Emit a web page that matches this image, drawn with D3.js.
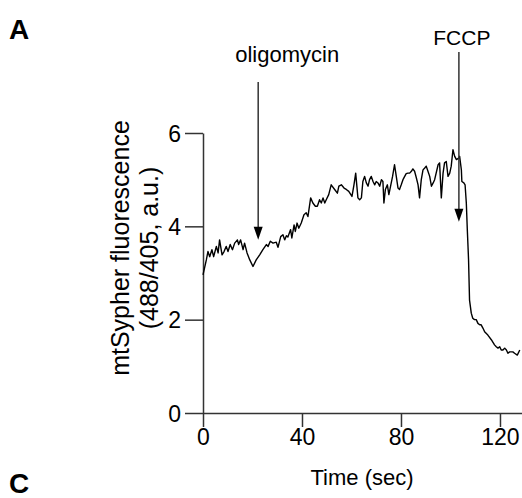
<!DOCTYPE html>
<html>
<head>
<meta charset="utf-8">
<script src="https://cdn.jsdelivr.net/npm/d3@7"></script>
<style>
  body { margin: 0; background: #fff; }
  text { font-family: "Liberation Sans", Arial, sans-serif; fill: #000; }
</style>
</head>
<body>
<div id="chart"></div>
<script>
// trace: time (sec) and ratio (488/405)
const times = [0, 1.35, 2.0, 2.7, 3.6, 4.3, 5.4, 6.1, 6.7, 7.7, 8.5, 9.4, 10.1, 11.0, 11.9, 12.8, 13.9, 14.4, 15.2, 16.2,
  16.8, 17.8, 18.9, 20.2, 21.5, 22.9, 24.2, 25.6, 26.3, 27.2, 28.3, 29.6, 30.3, 31.4, 32.3, 33.0, 33.7, 34.3, 35.4, 35.9,
  36.8, 37.3, 38.0, 38.7, 39.7, 40.8, 41.7, 42.4, 43.5, 44.4, 45.4, 46.2, 47.1, 47.8, 48.5, 49.2, 49.8, 50.8, 51.8, 53.2,
  54.3, 54.9, 55.9, 57.0, 57.9, 58.9, 60.2, 61.0, 61.7, 62.6, 63.3, 64.0, 64.6, 65.3, 66.0, 66.7, 67.3, 68.0, 68.7, 69.4,
  70.0, 70.7, 71.4, 72.1, 72.7, 73.1, 73.7, 74.5, 75.1, 75.8, 76.6, 77.4, 78.1, 78.8, 79.4, 80.1, 80.8, 81.5, 82.1, 82.8,
  83.5, 84.2, 84.8, 85.5, 86.2, 86.9, 87.5, 88.2, 88.9, 89.6, 90.2, 90.9, 91.6, 92.3, 93.0, 93.6, 95.0, 95.6, 96.3, 97.0,
  97.6, 98.3, 99.0, 99.7, 100.3, 101.0, 101.7, 102.4, 103.3, 103.7, 104.4, 104.6, 105.4, 105.9, 106.4, 106.8, 107.3, 107.7,
  108.4, 109.0, 109.7, 110.4, 111.1, 111.8, 112.4, 113.1, 113.8, 115.1, 116.5, 117.8, 118.5, 119.2, 119.9, 120.5, 121.2,
  121.9, 122.6, 123.2, 123.9, 125.2, 125.9, 127.0, 128.0];
const ratios = [2.96, 3.28, 3.46, 3.35, 3.50, 3.35, 3.57, 3.43, 3.71, 3.39, 3.46, 3.57, 3.46, 3.61, 3.50, 3.64, 3.71, 3.61, 3.71, 3.50,
  3.64, 3.43, 3.28, 3.14, 3.28, 3.39, 3.50, 3.61, 3.57, 3.68, 3.64, 3.66, 3.55, 3.78, 3.82, 3.71, 3.80, 3.77, 3.93, 3.75,
  4.03, 3.89, 4.07, 3.96, 4.07, 4.25, 4.29, 4.21, 4.61, 4.50, 4.43, 4.43, 4.57, 4.50, 4.61, 4.50, 4.57, 4.68, 4.89, 4.79,
  4.71, 4.86, 4.89, 4.82, 4.79, 4.75, 4.64, 4.89, 5.14, 4.61, 4.57, 4.61, 4.96, 5.07, 4.93, 4.86, 5.00, 5.07, 4.96, 4.89,
  4.96, 4.93, 4.86, 5.00, 4.96, 4.50, 4.79, 4.89, 4.68, 4.86, 5.07, 5.32, 5.07, 4.82, 4.79, 4.89, 5.00, 5.07, 5.13, 5.14,
  5.14, 5.18, 5.23, 5.18, 5.04, 4.89, 4.61, 5.00, 5.21, 5.25, 5.29, 5.18, 5.07, 4.86, 4.93, 5.00, 5.32, 5.36, 4.61, 5.14,
  5.36, 5.39, 5.07, 5.14, 5.29, 5.64, 5.50, 5.43, 5.46, 5.50, 5.21, 4.96, 4.93, 4.89, 4.50, 3.93, 3.29, 2.42,
  2.14, 2.03, 2.00, 2.00, 1.92, 1.89, 1.89, 1.82, 1.74, 1.67, 1.57, 1.46, 1.42, 1.39, 1.42, 1.35, 1.35,
  1.39, 1.35, 1.28, 1.31, 1.31, 1.28, 1.24, 1.35];

const xTicks = [0, 40, 80, 120];
const yTicks = [0, 2, 4, 6];

// drug additions: label, time of the arrow, value where the arrow tip sits
const drugNames = ["oligomycin", "FCCP"];
const drugTimes = [22.3, 103.4];
const drugTips = [3.71, 4.1];

const width = 522, height = 498;

const svg = d3.select("#chart")
  .append("svg")
  .attr("width", width)
  .attr("height", height);

let xScale = d3.scaleLinear()
  .domain([0, 128.9])
  .range([203, 522]);

let yScale = d3.scaleLinear()
  .domain([0, 6])
  .range([413, 133]);

// x axis
const gx = svg.append("g")
  .attr("transform", `translate(0,${yScale(0)})`)
  .call(d3.axisBottom(xScale).tickValues(xTicks).tickFormat(d3.format("d"))
    .tickSizeInner(14).tickSizeOuter(0).tickPadding(2));

// y axis
const gy = svg.append("g")
  .attr("transform", `translate(${xScale(0)},0)`)
  .call(d3.axisLeft(yScale).tickValues(yTicks).tickFormat(d3.format("d"))
    .tickSizeInner(18).tickSizeOuter(0).tickPadding(4));

[gx, gy].forEach(g => {
  g.selectAll("path, line").attr("stroke", "#333").attr("stroke-width", 1.5);
  g.selectAll("text").attr("font-size", "23px").attr("fill", "#000")
    .attr("font-family", "Liberation Sans, Arial, sans-serif");
});
gy.selectAll("text").attr("dy", "0.36em");

// trace
const line = d3.line()
  .x((d, i) => xScale(times[i]))
  .y(d => yScale(d));

svg.append("path")
  .datum(ratios)
  .attr("d", line)
  .attr("fill", "none")
  .attr("stroke", "#000")
  .attr("stroke-width", 1.4)
  .attr("stroke-linejoin", "round");

// arrows for drug additions
const lineTops = [82, 52];
const labelY = [62, 45];
drugNames.forEach((name, i) => {
  const ax = xScale(drugTimes[i]);
  const tip = yScale(drugTips[i]);
  svg.append("line")
    .attr("x1", ax).attr("x2", ax)
    .attr("y1", lineTops[i]).attr("y2", tip - 10)
    .attr("stroke", "#333").attr("stroke-width", 1.5);
  svg.append("path")
    .attr("d", `M${ax - 4.5},${tip - 13} L${ax + 4.5},${tip - 13} L${ax},${tip} Z`)
    .attr("fill", "#000");
  svg.append("text")
    .attr("x", i === 0 ? ax + 29 : ax + 3)
    .attr("y", labelY[i])
    .attr("text-anchor", "middle")
    .attr("font-size", i === 0 ? "22px" : "21px")
    .text(name);
});

// axis titles
svg.append("text")
  .attr("x", 362)
  .attr("y", 485)
  .attr("text-anchor", "middle")
  .attr("font-size", "22px")
  .text("Time (sec)");

svg.append("text")
  .attr("transform", "translate(129,248) rotate(-90)")
  .attr("text-anchor", "middle")
  .attr("font-size", "25px")
  .text("mtSypher fluorescence");

svg.append("text")
  .attr("transform", "translate(158,248) rotate(-90)")
  .attr("text-anchor", "middle")
  .attr("font-size", "25px")
  .text("(488/405, a.u.)");

// panel letters
svg.append("text").attr("x", 9).attr("y", 39)
  .attr("font-size", "28px").attr("font-weight", "bold").text("A");
svg.append("text").attr("x", 9).attr("y", 493)
  .attr("font-size", "28px").attr("font-weight", "bold").text("C");
</script>
</body>
</html>
